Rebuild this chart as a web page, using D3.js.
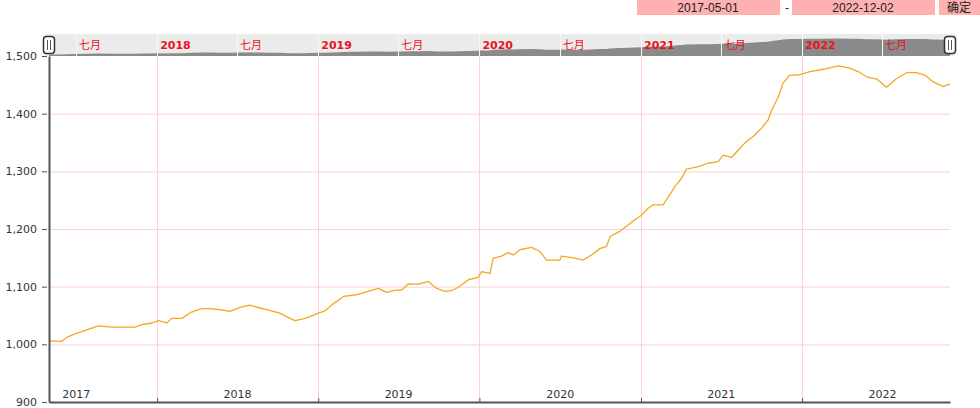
<!DOCTYPE html>
<html>
<head>
<meta charset="utf-8">
<script src="https://cdn.jsdelivr.net/npm/d3@7"></script>
<style>
  html, body { margin: 0; padding: 0; background: #fff; }
  svg { display: block; font-family: "DejaVu Sans", "Noto Sans CJK SC", sans-serif; }
</style>
</head>
<body>
<svg id="chart" width="980" height="408"></svg>
<script>
// ---- data ----
const startDate = "2017-05-01";
const endDate = "2022-12-02";
const dates = [
  "2017-05-01","2017-05-29","2017-06-10","2017-06-29","2017-07-29","2017-08-21","2017-09-20","2017-10-20",
  "2017-11-12","2017-11-27","2017-12-20","2018-01-04","2018-01-23","2018-02-03","2018-02-26","2018-03-20",
  "2018-04-12","2018-05-01","2018-05-23","2018-06-15","2018-07-08","2018-07-30","2018-08-22","2018-09-13",
  "2018-10-06","2018-10-29","2018-11-09","2018-11-28","2018-12-13","2019-01-01","2019-01-16","2019-01-31",
  "2019-02-27","2019-03-29","2019-04-24","2019-05-17","2019-06-05","2019-06-24","2019-07-09","2019-07-24",
  "2019-08-15","2019-09-07","2019-09-26","2019-10-15","2019-10-30","2019-11-14","2019-12-07","2019-12-29",
  "2020-01-06","2020-01-25","2020-02-01","2020-02-20","2020-03-06","2020-03-18","2020-04-02","2020-04-28",
  "2020-05-17","2020-06-01","2020-07-01","2020-07-05","2020-08-01","2020-08-23","2020-09-11","2020-09-30",
  "2020-10-15","2020-10-23","2020-11-14","2020-12-03","2020-12-18","2021-01-02","2021-01-17","2021-01-29",
  "2021-02-20","2021-03-07","2021-03-19","2021-04-03","2021-04-14","2021-05-11","2021-06-02","2021-06-25",
  "2021-07-06","2021-07-25","2021-08-06","2021-08-24","2021-09-16","2021-10-01","2021-10-16","2021-10-24",
  "2021-11-08","2021-11-19","2021-12-04","2021-12-23","2022-01-19","2022-02-18","2022-03-24","2022-04-19",
  "2022-05-08","2022-05-27","2022-06-19","2022-07-11","2022-08-03","2022-08-26","2022-09-17","2022-10-06",
  "2022-10-25","2022-11-17","2022-11-28","2022-12-02"
];
const values = [
  1006,1005,1012,1018,1026,1032,1030,1030,
  1030,1034,1037,1041,1037,1045,1045,1056,
  1062,1062,1060,1057,1064,1068,1063,1059,
  1054,1045,1041,1044,1048,1054,1058,1068,
  1083,1086,1092,1097,1090,1094,1094,1105,
  1104,1109,1097,1092,1093,1099,1112,1116,
  1126,1123,1149,1153,1159,1155,1164,1168,
  1161,1146,1146,1153,1150,1146,1155,1166,
  1170,1187,1196,1207,1216,1224,1236,1242,
  1242,1259,1274,1288,1304,1308,1314,1317,
  1328,1324,1334,1349,1363,1375,1389,1406,
  1429,1453,1467,1467,1473,1477,1483,1479,
  1473,1464,1460,1446,1461,1471,1471,1467,
  1455,1447,1451,1450
];
const yTicks = [900, 1000, 1100, 1200, 1300, 1400, 1500];
const yearLabels = ["2017","2018","2019","2020","2021","2022"];
const navYearTicks = ["2018","2019","2020","2021","2022"];
const navMonthLabel = "七月";
const navMonthTicks = ["2017-07-01","2018-07-01","2019-07-01","2020-07-01","2021-07-01","2022-07-01"];
const confirmLabel = "确定";

// ---- setup ----
const parse = d3.timeParse("%Y-%m-%d");
const data = dates.map((d, i) => ({ date: parse(d), value: values[i] }));
const svg = d3.select("#chart");

const pLeft = 49, pRight = 950, pTop = 56, pBottom = 402;
const x = d3.scaleTime().domain([parse(startDate), parse(endDate)]).range([pLeft, pRight]);
const y = d3.scaleLinear().domain([900, 1500]).range([pBottom, pTop]);

const gridColor = "#ffd2d2";
const red = "#e8141c";

// ---- date range inputs ----
const inputs = svg.append("g").attr("font-family", "Arial, 'Liberation Sans', 'Noto Sans CJK SC', sans-serif").attr("font-size", 12).attr("fill", "#222");
inputs.append("rect").attr("x", 637).attr("y", 0).attr("width", 143).attr("height", 15).attr("fill", "#ffb0b0");
inputs.append("text").attr("x", 708).attr("y", 11.5).attr("text-anchor", "middle").text(startDate);
inputs.append("text").attr("x", 787).attr("y", 11.5).attr("text-anchor", "middle").text("-");
inputs.append("rect").attr("x", 792).attr("y", 0).attr("width", 143).attr("height", 15).attr("fill", "#ffb0b0");
inputs.append("text").attr("x", 863).attr("y", 11.5).attr("text-anchor", "middle").text(endDate);
inputs.append("rect").attr("x", 939).attr("y", 0).attr("width", 41).attr("height", 15).attr("fill", "#ffb0b0");
inputs.append("text").attr("x", 959).attr("y", 11.5).attr("text-anchor", "middle").text(confirmLabel);

// ---- grid ----
const grid = svg.append("g");
grid.selectAll("line.h").data(yTicks.filter(t => t > 900 && t < 1500)).join("line")
  .attr("x1", pLeft).attr("x2", pRight).attr("y1", d => y(d) + 0.5).attr("y2", d => y(d) + 0.5)
  .attr("stroke", gridColor).attr("stroke-width", 1);
grid.selectAll("line.v").data(navYearTicks).join("line")
  .attr("x1", d => Math.round(x(parse(d + "-01-01"))) + 0.5).attr("x2", d => Math.round(x(parse(d + "-01-01"))) + 0.5)
  .attr("y1", pTop).attr("y2", pBottom)
  .attr("stroke", gridColor).attr("stroke-width", 1);

// ---- line ----
const line = d3.line().x(d => x(d.date)).y(d => y(d.value));
svg.append("path").datum(data).attr("d", line)
  .attr("fill", "none").attr("stroke", "#f5a623").attr("stroke-width", 1.3).attr("stroke-linejoin", "round");

// ---- navigator ----
const nav = svg.append("g");
const navTop = 34, navBottom = 56;
nav.append("rect").attr("x", 45).attr("y", navTop).attr("width", 910).attr("height", navBottom - navTop).attr("fill", "#ebebeb");
const ny = d3.scaleLinear().domain([d3.min(values), d3.max(values)]).range([54.5, 38.5]);
const area = d3.area().x(d => x(d.date)).y0(navBottom).y1(d => ny(d.value));
nav.append("path").datum(data).attr("d", area).attr("fill", "#8a8a8a");
const navTicks = navYearTicks.map(d => ({ date: parse(d + "-01-01"), label: d, bold: true }))
  .concat(navMonthTicks.map(d => ({ date: parse(d), label: navMonthLabel, bold: false })));
nav.selectAll("line.nt").data(navTicks).join("line")
  .attr("x1", d => Math.round(x(d.date)) + 0.5).attr("x2", d => Math.round(x(d.date)) + 0.5)
  .attr("y1", navTop).attr("y2", navBottom).attr("stroke", "#f8f8f8").attr("stroke-width", 1);
nav.selectAll("text.nt").data(navTicks).join("text")
  .attr("x", d => x(d.date) + 3).attr("y", 49)
  .attr("fill", red).attr("font-size", 11).attr("font-weight", d => d.bold ? "bold" : "normal")
  .text(d => d.label);
// handles
[pLeft, pRight].forEach(hx => {
  const h = nav.append("g").attr("transform", `translate(${hx},0)`);
  h.append("rect").attr("x", -5.5).attr("y", 36.5).attr("width", 11).attr("height", 17).attr("rx", 3)
    .attr("fill", "#fff").attr("stroke", "#333").attr("stroke-width", 1.5);
  h.append("line").attr("x1", -1.5).attr("x2", -1.5).attr("y1", 40).attr("y2", 50).attr("stroke", "#555").attr("stroke-width", 1);
  h.append("line").attr("x1", 1.5).attr("x2", 1.5).attr("y1", 40).attr("y2", 50).attr("stroke", "#555").attr("stroke-width", 1);
});

// ---- y axis ----
const yAxis = svg.append("g").attr("transform", `translate(${pLeft},0)`)
  .call(d3.axisLeft(y).tickValues(yTicks).tickFormat(d3.format(",")).tickSize(5).tickPadding(7).tickSizeOuter(0));
yAxis.select(".domain").attr("stroke", "#555").attr("stroke-width", 2);
yAxis.selectAll(".tick line").attr("stroke", "#555").attr("transform", "translate(-2,0)");
yAxis.selectAll(".tick text").attr("font-size", 11).attr("fill", "#333").attr("font-family", "'DejaVu Sans', sans-serif");

// ---- x axis ----
const xAxis = svg.append("g").attr("transform", `translate(0,${pBottom})`)
  .call(d3.axisTop(x).tickValues(navYearTicks.map(d => parse(d + "-01-01"))).tickSize(4).tickFormat("").tickSizeOuter(0));
xAxis.select(".domain").attr("stroke", "#555").attr("stroke-width", 2);
xAxis.selectAll(".tick line").attr("stroke", "#555");
svg.append("g").selectAll("text").data(yearLabels).join("text")
  .attr("x", d => x(parse(d + "-07-02"))).attr("y", 398)
  .attr("text-anchor", "middle").attr("font-size", 11).attr("fill", "#333")
  .text(d => d);
</script>
</body>
</html>
